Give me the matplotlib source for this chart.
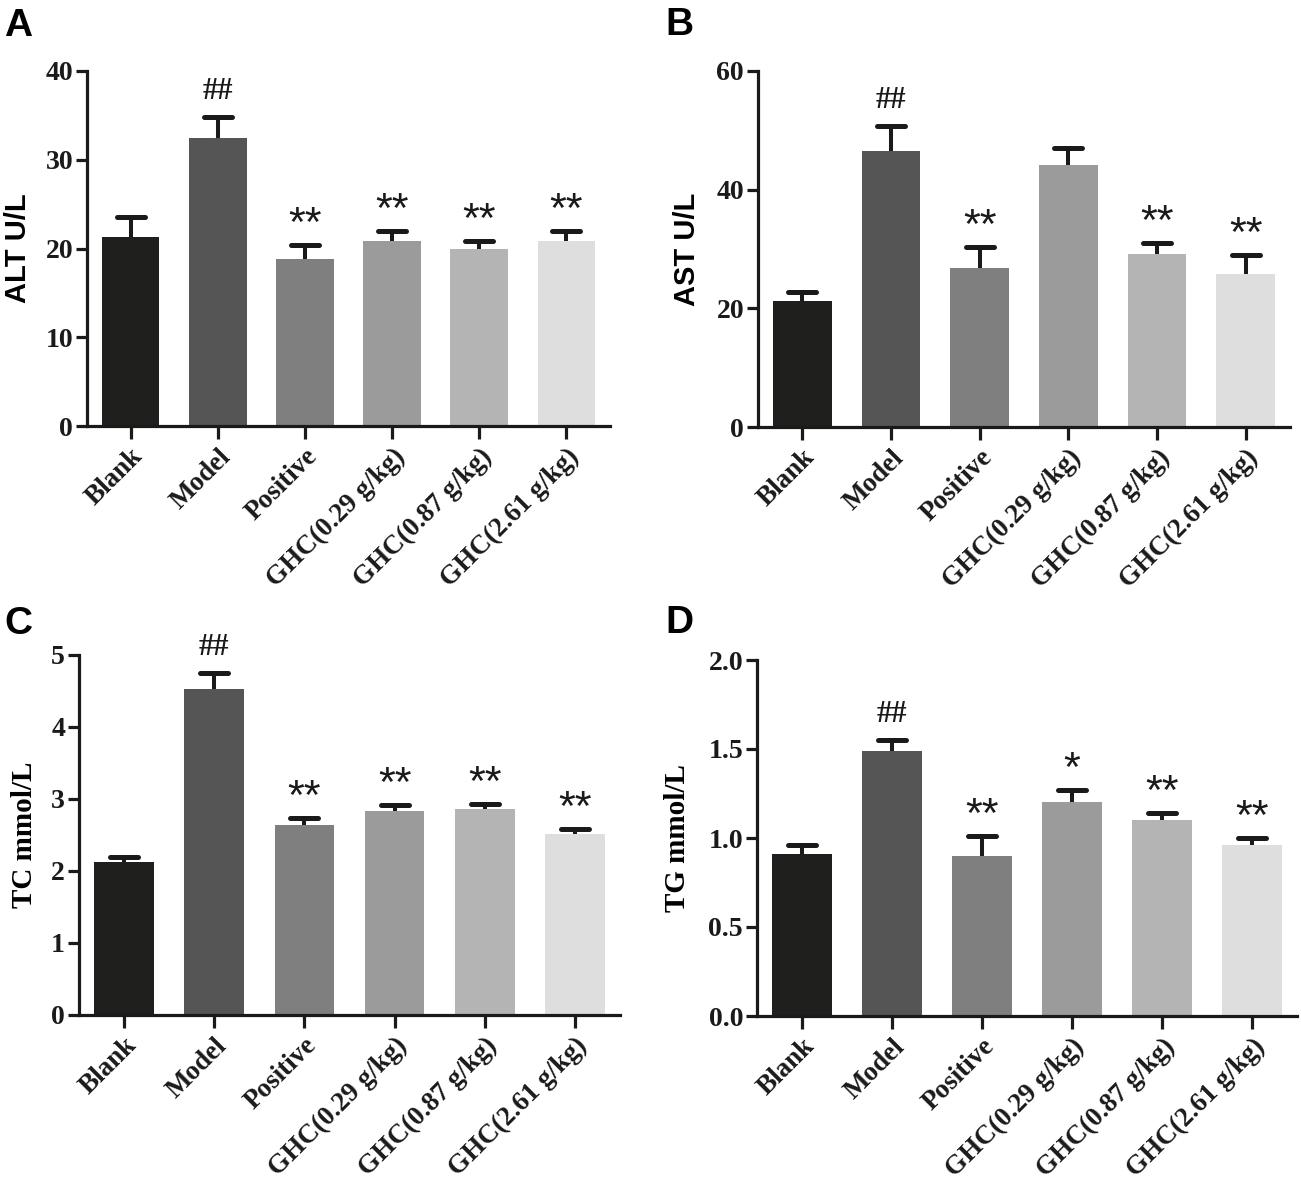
"""Serum biochemistry bar charts (ALT, AST, TC, TG) for the GHC dose groups."""

import matplotlib

matplotlib.use("Agg")
import matplotlib.pyplot as plt
from matplotlib.markers import MarkerStyle

GROUPS = [
    "Blank",
    "Model",
    "Positive",
    "GHC(0.29 g/kg)",
    "GHC(0.87 g/kg)",
    "GHC(2.61 g/kg)",
]
BAR_COLORS = ["#1f1f1d", "#555555", "#7f7f7f", "#9b9b9b", "#b4b4b4", "#dddedd"]

# means and upper error (SEM) per group
ALT_MEAN = [21.3, 32.5, 18.8, 20.9, 19.9, 20.8]
ALT_ERR = [2.3, 2.3, 1.6, 1.1, 0.9, 1.2]
AST_MEAN = [21.2, 46.5, 26.8, 44.2, 29.2, 25.8]
AST_ERR = [1.6, 4.2, 3.5, 2.8, 1.8, 3.2]
TC_MEAN = [2.12, 4.53, 2.64, 2.83, 2.86, 2.51]
TC_ERR = [0.08, 0.22, 0.09, 0.08, 0.07, 0.07]
TG_MEAN = [0.91, 1.49, 0.90, 1.20, 1.10, 0.96]
TG_ERR = [0.05, 0.06, 0.11, 0.07, 0.04, 0.04]

ALT_MARKS = ["", "##", "**", "**", "**", "**"]
AST_MARKS = ["", "##", "**", "", "**", "**"]
TC_MARKS = ["", "##", "**", "**", "**", "**"]
TG_MARKS = ["", "##", "**", "*", "**", "**"]

FIG_W, FIG_H = 1301, 1183
SERIF = "Liberation Serif"
SANS = "Liberation Sans"
INK = "#1a1a1a"


def _axes_at(fig, left, right, top, bottom):
    """Add axes from pixel box (top-left origin)."""
    return fig.add_axes(
        [left / FIG_W, 1 - bottom / FIG_H, (right - left) / FIG_W, (bottom - top) / FIG_H]
    )


def _panel(ax, means, errs, marks, ymax, yticks, ylabel, label_font, label_x, ytick_fmt):
    x = list(range(len(GROUPS)))
    ax.bar(x, means, width=0.66, color=BAR_COLORS, zorder=2)
    _, caps, _ = ax.errorbar(
        x,
        means,
        yerr=[[0] * len(errs), errs],
        fmt="none",
        ecolor=INK,
        elinewidth=2.9,
        capsize=10,
        capthick=3.6,
        zorder=3,
    )
    # one-sided bars: hide the lower cap, round the upper one
    caps[0].set_visible(False)
    caps[1].set_marker(MarkerStyle("_", capstyle="round"))

    for xi, m, e, mk in zip(x, means, errs, marks):
        if not mk:
            continue
        if mk.startswith("#"):
            ax.annotate(mk, (xi, m + e), xytext=(0, 8), textcoords="offset points",
                        ha="center", va="bottom", fontsize=22, fontweight="bold",
                        family=SERIF, color=INK)
        else:
            ax.annotate(mk, (xi, m + e), xytext=(0, 0), textcoords="offset points",
                        ha="center", va="bottom", fontsize=31,
                        family=SANS, color=INK)

    ax.set_xlim(-0.5, 5.5)
    ax.set_ylim(0, ymax)
    ax.set_yticks(yticks)
    ax.set_yticklabels([ytick_fmt.format(t) for t in yticks], fontsize=20,
                       fontweight="bold", family=SERIF)
    ax.set_xticks(x)
    ax.set_xticklabels(GROUPS, rotation=45, ha="right", rotation_mode="anchor",
                       fontsize=19.5, fontweight="bold", family=SERIF)
    for side in ("top", "right"):
        ax.spines[side].set_visible(False)
    for side in ("left", "bottom"):
        ax.spines[side].set_linewidth(2.3)
        ax.spines[side].set_color(INK)
    ax.tick_params(axis="y", length=8, width=2.3, pad=2, colors=INK)
    ax.tick_params(axis="x", length=9, width=2.3, pad=4, colors=INK)
    ax.set_ylabel(ylabel, fontsize=21, fontweight="bold", family=label_font)
    ax.yaxis.set_label_coords(label_x, 0.5)


def main() -> None:
    fig = plt.figure(figsize=(FIG_W / 100, FIG_H / 100), dpi=100)

    ax_a = _axes_at(fig, 87, 610, 71, 426)
    _panel(ax_a, ALT_MEAN, ALT_ERR, ALT_MARKS, 40, [0, 10, 20, 30, 40],
           "ALT U/L", SANS, -0.105, "{:g}")

    ax_b = _axes_at(fig, 758, 1290, 71, 427)
    _panel(ax_b, AST_MEAN, AST_ERR, AST_MARKS, 60, [0, 20, 40, 60],
           "AST U/L", SANS, -0.107, "{:g}")

    ax_c = _axes_at(fig, 79, 620, 655, 1015)
    _panel(ax_c, TC_MEAN, TC_ERR, TC_MARKS, 5, [0, 1, 2, 3, 4, 5],
           "TC mmol/L", SERIF, -0.075, "{:g}")

    ax_d = _axes_at(fig, 757, 1297, 660, 1016)
    _panel(ax_d, TG_MEAN, TG_ERR, TG_MARKS, 2.0, [0.0, 0.5, 1.0, 1.5, 2.0],
           "TG mmol/L", SERIF, -0.122, "{:.1f}")

    for letter, px, py in (("A", 4, 8), ("B", 665, 7), ("C", 4, 606), ("D", 665, 605)):
        fig.text(px / FIG_W, 1 - py / FIG_H, letter, fontsize=28, fontweight="bold",
                 family=SANS, ha="left", va="top")

    fig.savefig("out.png", dpi=100)
    plt.close(fig)


if __name__ == "__main__":
    main()
